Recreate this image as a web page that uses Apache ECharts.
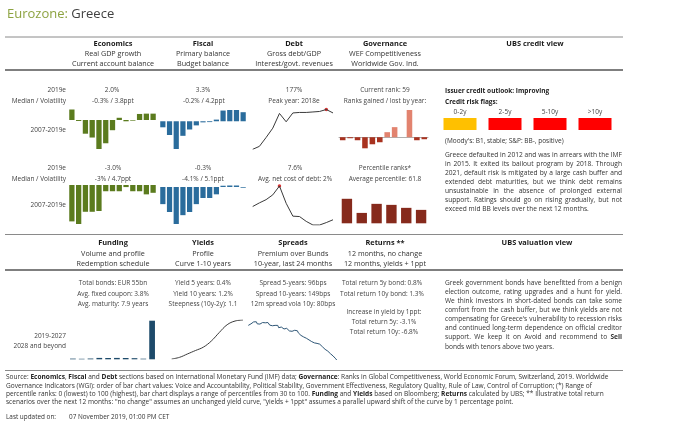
<!DOCTYPE html>
<html><head><meta charset="utf-8">
<script src="https://cdn.jsdelivr.net/npm/echarts@6/dist/echarts.min.js"></script>
<style>html,body{margin:0;padding:0;background:#fff}#c{width:680px;height:426px}</style>
</head><body><div id="c"></div>
<script>
// ---------- DATA ----------
const years = ['2007','2008','2009','2010','2011','2012','2013','2014','2015','2016','2017','2018','2019'];
const gdpGrowth = [3.3, -0.3, -4.3, -5.5, -9.1, -7.3, -3.2, 0.7, -0.4, -0.2, 1.9, 2.0, 2.0];
const currentAccount = [-14.0, -15.0, -10.3, -10.3, -10.0, -2.4, -2.4, -2.4, -0.8, -2.4, -2.4, -3.6, -3.0];
const primaryBalance = [-2.2, -5.0, -10.1, -5.3, -3.0, -1.5, -0.4, -0.3, 0.6, 3.9, 4.1, 4.1, 3.3];
const budgetBalance = [-7.0, -10.2, -15.1, -11.5, -10.2, -7.0, -4.5, -4.5, -3.0, 0.5, 0.6, 0.6, -0.3];
const grossDebt = [103, 109, 127, 146, 176, 159, 177, 178, 178, 179, 180, 184, 177];
const interestRevenue = [10.9, 11.8, 12.6, 13.8, 16.0, 11.7, 8.5, 8.4, 7.2, 6.3, 6.3, 6.9, 7.6];
const rankYears = ['2008','2009','2010','2011','2012','2013','2014','2015','2016','2017','2018','2019'];
const rankChange = [-3, -1, -3, -11, -7, -5, 5, 10, 0, 27, -3, -2];
const wgiCategories = ['Voice and Accountability','Political Stability','Government Effectiveness','Regulatory Quality','Rule of Law','Control of Corruption'];
const wgiPercentile = [76.0, 49.5, 66.5, 64.6, 59.0, 55.2];
const redemptionYears = ['2019','2020','2021','2022','2023','2024','2025','2026','2027','2028+'];
const redemptions = [0.8, 0.6, 0.9, 1.6, 1.5, 1.6, 1.5, 1.3, 0.7, 44.5];
const curveMaturity = [1, 2, 3, 4, 5, 6, 7, 8, 9, 10];
const curveYield = [0.05, 0.1, 0.2, 0.3, 0.4, 0.58, 0.83, 1.06, 1.17, 1.2];
const spread10y = [418,425,410,430,440,432,445,452,438,446,430,424,436,428,420,432,440,430,445,438,436,
  428,440,425,420,418,430,415,422,410,418,412,405,418,400,408,398,405,395,402,390,398,385,395,380,388,
  375,382,368,372,365,370,380,372,385,376,360,352,345,340,348,335,328,338,322,318,325,312,305,310,298,
  292,300,288,282,290,285,278,286,280,272,268,260,252,245,238,232,228,222,218,210,205,198,195,188,180,
  172,165,158,149];
const flagTenors = ['0-2y','2-5y','5-10y','>10y'];
const flagColors = ['#FFC000','#FF0000','#FF0000','#FF0000'];

// ---------- TEXT ----------
const creditText = [
 'Greece defaulted in 2012 and was in arrears with the IMF',
 'in 2015. It exited its bailout program by 2018. Through',
 '2021, default risk is mitigated by a large cash buffer and',
 'extended debt maturities, but we think debt remains',
 'unsustainable in the absence of prolonged external',
 'support. Ratings should go on rising gradually, but not',
 'exceed mid BB levels over the next 12 months.'];
const valuationText = [
 'Greek government bonds have benefitted from a benign',
 'election outcome, rating upgrades and a hunt for yield.',
 'We think investors in short-dated bonds can take some',
 'comfort from the cash buffer, but we think yields are not',
 "compensating for Greece's vulnerability to recession risks",
 'and continued long-term dependence on official creditor',
 'support. We keep it on Avoid and recommend to **Sell',
 'bonds with tenors above two years.'];
const footer = [
 'Source: {b|Economics}, {b|Fiscal} and {b|Debt} sections based on International Monetary Fund (IMF) data; {b|Governance}: Ranks in Global Competitiveness, World Economic Forum, Switzerland, 2019. Worldwide',
 'Governance Indicators (WGI): order of bar chart values: Voice and Accountability, Political Stability, Government Effectiveness, Regulatory Quality, Rule of Law, Control of Corruption; (*) Range of',
 'percentile ranks: 0 (lowest) to 100 (highest), bar chart displays a range of percentiles from 30 to 100. {b|Funding} and {b|Yields} based on Bloomberg; {b|Returns} calculated by UBS; ** Illustrative total return',
 'scenarios over the next 12 months: "no change" assumes an unchanged yield curve, "yields + 1ppt" assumes a parallel upward shift of the curve by 1 percentage point.'];

// ---------- HELPERS ----------
const F = '"Open Sans", sans-serif';
const TXT = '#404040';
function T(text, x, y, o) {
  const st = Object.assign({text: text, fill: TXT, fontSize: 6.5, fontFamily: F, fontWeight: 'normal',
    textAlign: 'center', textVerticalAlign: 'middle'}, o || {});
  st.align = st.textAlign; st.verticalAlign = st.textVerticalAlign;
  return {type: 'text', x: x, y: y, silent: true, style: st};
}
function L(x1, y1, x2, y2, c, w) {
  return {type: 'line', silent: true, shape: {x1, y1, x2, y2}, style: {stroke: c, lineWidth: w}};
}
const meas = document.createElement('canvas').getContext('2d');
function tw(t, s, b) { meas.font = (b ? 'bold ' : '') + s + 'px "Open Sans"'; return meas.measureText(t).width; }
function para(lines, x0, w, y0, lh, size, out) {
  let s = size;
  const parse = l => l.split(' ').map(wd => ({t: wd.replace(/\*\*/g, ''), b: wd.startsWith('**')}));
  const natural = l => { const ws = parse(l); return ws.reduce((a, o) => a + tw(o.t, s, o.b), 0) + tw(' ', s) * (ws.length - 1); };
  const mx = Math.max(...lines.map(natural));
  if (mx > w) s = s * w / mx * 0.995;
  lines.forEach((l, i) => {
    const ws = parse(l);
    const widths = ws.map(o => tw(o.t, s, o.b));
    const tot = widths.reduce((a, b) => a + b, 0);
    const last = i === lines.length - 1;
    const gap = last ? tw(' ', s) : (w - tot) / (ws.length - 1);
    let x = x0;
    ws.forEach((o, k) => {
      out.push(T(o.t, x, y0 + i * lh, {textAlign: 'left', fontSize: s, fontWeight: o.b ? 'bold' : 'normal', fill: '#333'}));
      x += widths[k] + gap;
    });
  });
}
const lo = a => Math.min(0, ...a), hi = a => Math.max(0, ...a);

// ---------- GRIDS ----------
const grids = [
  {left: 68.5, top: 109.5, width: 88, height: 39.5},   // 0 gdp
  {left: 159.5, top: 110, width: 87, height: 39},      // 1 primary
  {left: 252.7, top: 109.5, width: 80.3, height: 39.8},// 2 debt
  {left: 339, top: 110, width: 89, height: 38.3},      // 3 ranks
  {left: 68.5, top: 185, width: 88, height: 39},       // 4 current account
  {left: 159.5, top: 185.5, width: 87, height: 38.5},  // 5 budget
  {left: 252.7, top: 186, width: 80.3, height: 39},    // 6 interest
  {left: 339.5, top: 186, width: 89, height: 37.3},    // 7 percentile
  {left: 68.5, top: 320.7, width: 88, height: 38.6},   // 8 funding
  {left: 171.7, top: 320, width: 71.3, height: 39},    // 9 yields
  {left: 248.3, top: 321, width: 88.4, height: 39}     // 10 spreads
];
const catX = (i, data, gap, extra) => Object.assign({type: 'category', gridIndex: i, data: data, boundaryGap: gap,
  axisLine: {show: false}, axisTick: {show: false}, axisLabel: {show: false}, splitLine: {show: false}}, extra || {});
const valY = (i, min, max) => ({type: 'value', gridIndex: i, min: min, max: max, show: false, splitLine: {show: false}});

const xAxes = [
  catX(0, years, true), catX(1, years, true), catX(2, years, false),
  catX(3, rankYears, true, {axisLine: {show: true, onZero: true, lineStyle: {color: '#9a9a9a', width: 0.8}}}),
  catX(4, years, true), catX(5, years, true), catX(6, years, false), catX(7, wgiCategories, true),
  catX(8, redemptionYears, true),
  {type: 'value', gridIndex: 9, min: 1, max: 10, show: false, splitLine: {show: false}},
  catX(10, spread10y.map((v, i) => 'w' + i), false)
];
const yAxes = [
  valY(0, lo(gdpGrowth), hi(gdpGrowth)), valY(1, lo(primaryBalance), hi(primaryBalance)),
  valY(2, 'dataMin', 'dataMax'), valY(3, lo(rankChange), hi(rankChange)),
  valY(4, lo(currentAccount), hi(currentAccount)), valY(5, lo(budgetBalance), hi(budgetBalance)),
  valY(6, 'dataMin', 'dataMax'), valY(7, 30, 100),
  valY(8, 0, Math.max(...redemptions)), valY(9, 'dataMin', 'dataMax'), valY(10, 'dataMin', 'dataMax')
];
const bar = (i, data, color, gap) => ({type: 'bar', xAxisIndex: i, yAxisIndex: i, data: data, barCategoryGap: gap || '22%',
  itemStyle: {color: color}, silent: true, animation: false});
const line = (i, data, color, smooth) => ({type: 'line', xAxisIndex: i, yAxisIndex: i, data: data, symbol: 'none', smooth: smooth || false,
  lineStyle: {color: color, width: 1}, silent: true, animation: false});
const peak = (i, data) => { const m = Math.max(...data); const k = data.indexOf(m);
  return {type: 'scatter', xAxisIndex: i, yAxisIndex: i, data: [[k, m]], symbolSize: 3.5, itemStyle: {color: '#D00000'}, silent: true, animation: false}; };

const series = [
  bar(0, gdpGrowth, '#5B7B1E'),
  bar(1, primaryBalance, '#2A6C9C'),
  line(2, grossDebt, '#3a3a3a'), peak(2, grossDebt),
  bar(3, rankChange.map(v => ({value: v, itemStyle: {color: v > 0 ? '#E2836F' : '#A8321F'}})), '#A8321F', '25%'),
  bar(4, currentAccount, '#5B7B1E'),
  bar(5, budgetBalance, '#2A6C9C'),
  line(6, interestRevenue, '#3a3a3a'), peak(6, interestRevenue),
  bar(7, wgiPercentile, '#862A1C', '30%'),
  bar(8, redemptions, '#1D4A6A', '35%'),
  line(9, curveMaturity.map((m, i) => [m, curveYield[i]]), '#3a3a3a', 0.4),
  line(10, spread10y, '#2E5676')
];

// ---------- GRAPHICS ----------
const g = [];
g.push(T('{g|Eurozone: }{k|Greece}', 7, 14, {textAlign: 'left', fontSize: 13,
  rich: {g: {fill: '#8DA341', fontSize: 13, fontFamily: F}, k: {fill: '#404040', fontSize: 13, fontFamily: F}}}));
g.push(L(5, 37, 623, 37, '#8a8a8a', 1), L(5, 70, 623, 70, '#555', 1.3));
g.push(L(5, 234.5, 623, 234.5, '#8a8a8a', 1), L(5, 270, 623, 270, '#555', 1.3));
g.push(L(5, 370.5, 623, 370.5, '#8a8a8a', 1));

const hdr = (t, x, y) => T(t, x, y, {fontSize: 7.4, fontWeight: 'bold', fill: '#1a1a1a'});
const sub = (t, x, y) => T(t, x, y, {fontSize: 7.2, fill: '#333'});
[['Economics','Real GDP growth','Current account balance',113],
 ['Fiscal','Primary balance','Budget balance',203],
 ['Debt','Gross debt/GDP','Interest/govt. revenues',294],
 ['Governance','WEF Competitiveness','Worldwide Gov. Ind.',385]].forEach(h => {
  g.push(hdr(h[0], h[3], 43.5), sub(h[1], h[3], 53.5), sub(h[2], h[3], 63.8));
});
g.push(hdr('UBS credit view', 535, 43.5));
[['Funding','Volume and profile','Redemption schedule',113],
 ['Yields','Profile','Curve 1-10 years',203],
 ['Spreads','Premium over Bunds','10-year, last 24 months',293],
 ['Returns **','12 months, no change','12 months, yields + 1ppt',385]].forEach(h => {
  g.push(hdr(h[0], h[3], 243.3), sub(h[1], h[3], 253.8), sub(h[2], h[3], 264.3));
});
g.push(hdr('UBS valuation view', 537, 243.3));

// row labels
const rl = (t, y) => T(t, 66, y, {textAlign: 'right', fill: '#444'});
g.push(rl('2019e', 90), rl('Median / Volatility', 101), rl('2007-2019e', 130));
g.push(rl('2019e', 168), rl('Median / Volatility', 179), rl('2007-2019e', 205));
g.push(rl('2019-2027', 336.5), rl('2028 and beyond', 346.3));

const v = (t, x, y) => T(t, x, y, {fill: '#444'});
g.push(v(gdpGrowth[12].toFixed(1) + '%', 112, 90), v('-0.3% / 3.8ppt', 113, 101));
g.push(v(primaryBalance[12].toFixed(1) + '%', 203, 90), v('-0.2% / 4.2ppt', 204, 101));
g.push(v(grossDebt[12] + '%', 294, 90), v('Peak year: 2018e', 294, 101));
g.push(v('Current rank: 59', 385, 90), v('Ranks gained / lost by year:', 385, 101.5));
g.push(v(currentAccount[12].toFixed(1) + '%', 113, 168), v('-3% / 4.7ppt', 113, 179));
g.push(v(budgetBalance[12].toFixed(1) + '%', 203, 168), v('-4.1% / 5.1ppt', 203, 179));
g.push(v(interestRevenue[12].toFixed(1) + '%', 295, 168), v('Avg. net cost of debt: 2%', 295, 179));
g.push(v('Percentile ranks*', 385, 168), v('Average percentile: 61.8', 385, 179));

// credit view
g.push(T('Issuer credit outlook: Improving', 445, 91, {textAlign: 'left', fontWeight: 'bold', fill: '#222'}));
g.push(T('Credit risk flags:', 445, 102, {textAlign: 'left', fontWeight: 'bold', fill: '#222'}));
const fx = [443.5, 488.5, 533.5, 578.5];
flagTenors.forEach((t, i) => {
  g.push(T(t, fx[i] + 16.5, 112.5, {fill: '#444'}));
  g.push({type: 'rect', silent: true, shape: {x: fx[i], y: 118, width: 33, height: 12}, style: {fill: flagColors[i]}});
});
g.push(T("(Moody's: B1, stable; S&P: BB-, positive)", 445, 141, {textAlign: 'left', fill: '#333'}));
para(creditText, 445, 177, 155, 9.1, 6.7, g);

// funding / yields / spreads / returns texts
[['Total bonds: EUR 55bn','Avg. fixed coupon: 3.8%','Avg. maturity: 7.9 years',113],
 ['Yield 5 years: 0.4%','Yield 10 years: 1.2%','Steepness (10y-2y): 1.1',203],
 ['Spread 5-years: 96bps','Spread 10-years: 149bps','12m spread vola 10y: 80bps',293]].forEach(c => {
  g.push(v(c[0], c[3], 283.3), v(c[1], c[3], 293.8), v(c[2], c[3], 304.3));
});
g.push(v('Total return 5y bond: 0.8%', 382, 283.3), v('Total return 10y bond: 1.3%', 382, 293.8));
g.push(v('Increase in yield by 1ppt:', 384, 312.5), v('Total return 5y: -3.1%', 384, 322.3), v('Total return 10y: -6.8%', 384, 332.3));
para(valuationText, 445, 177, 283.3, 9.05, 6.7, g);

// footer
footer.forEach((t, i) => g.push(T(t, 6, 377.5 + i * 8.3, {textAlign: 'left', fontSize: 6.55, fill: '#333',
  rich: {b: {fontWeight: 'bold', fontSize: 6.55, fontFamily: F, fill: '#222'}}})));
g.push(T('Last updated on:', 6, 417, {textAlign: 'left', fontSize: 6.4, fill: '#333'}));
g.push(T('07 November 2019, 01:00 PM CET', 69, 417, {textAlign: 'left', fontSize: 6.4, fill: '#333'}));

const chart = echarts.init(document.getElementById('c'), null, {renderer: 'canvas'});
chart.setOption({animation: false, backgroundColor: '#fff', grid: grids, xAxis: xAxes, yAxis: yAxes, series: series, graphic: g});
</script></body></html>
